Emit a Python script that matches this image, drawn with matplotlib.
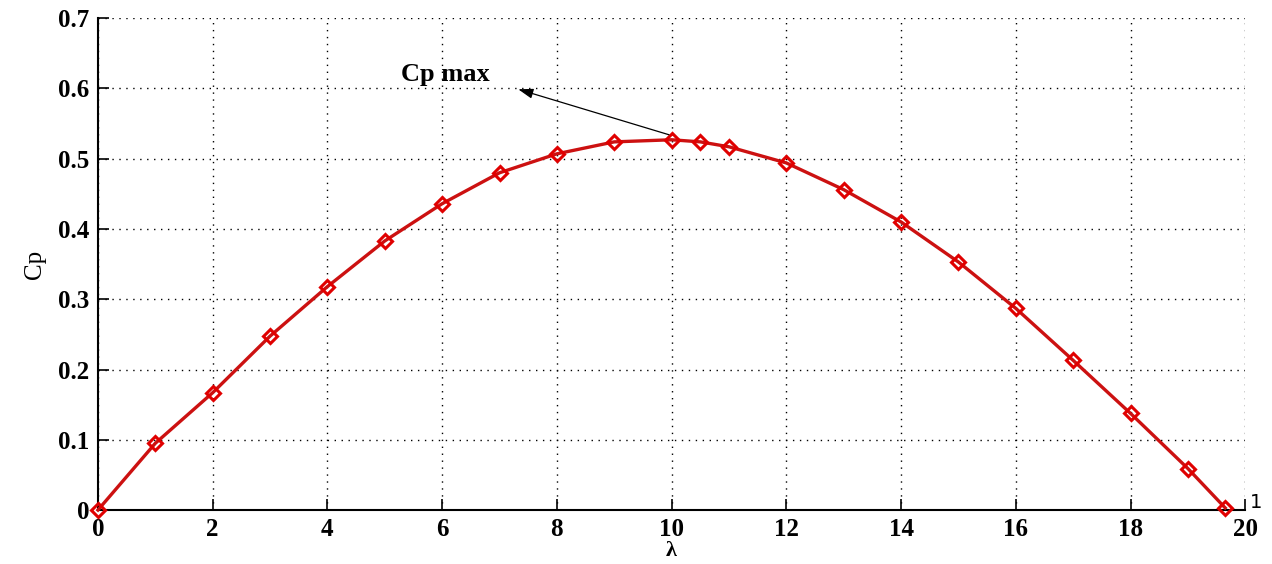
import matplotlib
matplotlib.use("Agg")
import matplotlib.pyplot as plt

lam = [0, 1, 2, 3, 4, 5, 6, 7, 8, 9, 10, 10.5, 11, 12, 13, 14, 15, 16, 17, 18, 19, 19.65]
cp = [0.0, 0.095, 0.167, 0.2475, 0.318, 0.383, 0.436, 0.480, 0.507, 0.524, 0.527,
      0.524, 0.517, 0.494, 0.456, 0.410, 0.353, 0.287, 0.213, 0.1375, 0.059, 0.003]
xticks = [0, 2, 4, 6, 8, 10, 12, 14, 16, 18, 20]
yticks = [0, 0.1, 0.2, 0.3, 0.4, 0.5, 0.6, 0.7]
ytick_labels = ["0", "0.1", "0.2", "0.3", "0.4", "0.5", "0.6", "0.7"]

serif = ["Liberation Serif", "DejaVu Serif"]

fig = plt.figure(figsize=(12.72, 5.64), dpi=100)
ax = fig.add_axes([0.077, 0.0957, 0.902, 0.872])

ax.plot(lam, cp, color="#cc1111", linewidth=2.4, marker="D", markersize=7,
        markerfacecolor="none", markeredgecolor="#e00000", markeredgewidth=2.2, zorder=3,
        clip_on=False)

ax.set_xlim(0, 20)
ax.set_ylim(0, 0.7)
ax.set_xticks(xticks)
ax.set_yticks(yticks)
ax.set_xticklabels([str(t) for t in xticks], fontfamily=serif, fontweight="bold", fontsize=18)
ax.set_yticklabels(ytick_labels, fontfamily=serif, fontweight="bold", fontsize=18)
ax.tick_params(axis="x", direction="in", length=8, width=1.2, pad=6)
ax.tick_params(axis="y", direction="in", length=8, width=1.2, pad=6)
ax.grid(True, color="black", linestyle=(0, (1, 4)), linewidth=1.0)

for s in ["top", "right"]:
    ax.spines[s].set_visible(False)
for s in ["left", "bottom"]:
    ax.spines[s].set_linewidth(1.5)

ax.set_xlabel("λ", fontfamily=serif, fontweight="bold", fontsize=16, labelpad=0)
ax.set_ylabel("Cp", fontfamily=serif, fontsize=18, labelpad=9)

ax.annotate("", xy=(7.28, 0.600), xytext=(10.0, 0.533),
            arrowprops=dict(arrowstyle="-|>,head_length=0.9,head_width=0.3",
                            color="black", linewidth=0.9))
ax.text(6.05, 0.620, "Cp max", fontfamily=serif, fontweight="bold", fontsize=19,
        ha="center", va="center")

ax.text(1.004, -0.005, "1", transform=ax.transAxes, fontsize=14, ha="left", va="bottom",
        fontfamily="DejaVu Sans")

fig.savefig("out.png", dpi=100, facecolor="white")
